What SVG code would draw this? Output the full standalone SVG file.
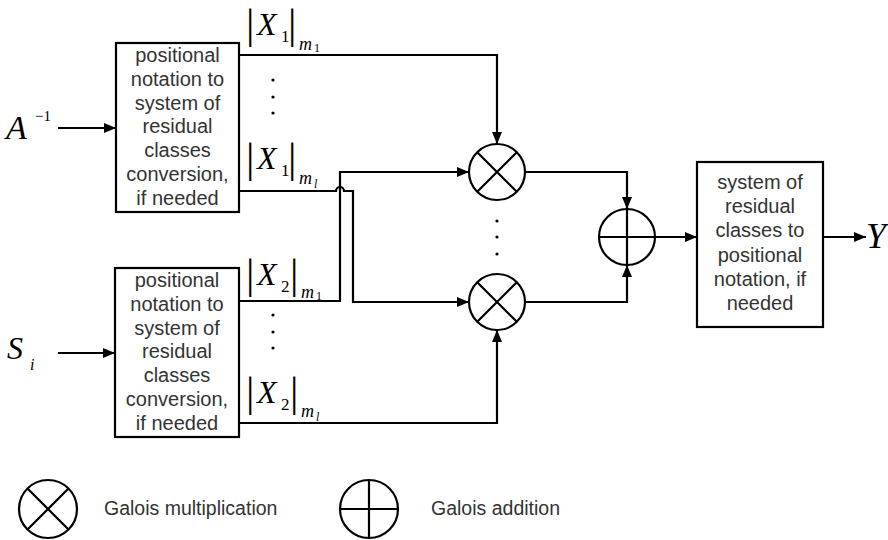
<svg xmlns="http://www.w3.org/2000/svg" width="888" height="540" viewBox="0 0 888 540">
<defs>
<marker id="arr" markerUnits="userSpaceOnUse" markerWidth="14" markerHeight="12" refX="12" refY="6" orient="auto">
<path d="M0,1 L12,6 L0,11 Z" fill="#000"/>
</marker>
<style>
.box{fill:#fff;stroke:#000;stroke-width:2.2}
.t{font-family:"Liberation Sans",Arial,sans-serif;font-size:20px;fill:#333;text-anchor:middle}
.lg{font-family:"Liberation Sans",Arial,sans-serif;font-size:19.5px;fill:#333}
.m{font-family:"Liberation Serif","Times New Roman",serif;fill:#000}
.i{font-style:italic}
.ln{fill:none;stroke:#000;stroke-width:2.2}
.c{fill:#fff;stroke:#000;stroke-width:2.2}
.dot{fill:#000}
</style>
</defs>

<g id="connectors">
<path class="ln" d="M58,128 H116" marker-end="url(#arr)"/>
<path class="ln" d="M58,353 H115" marker-end="url(#arr)"/>
<path class="ln" d="M239,55 H497 V144" marker-end="url(#arr)"/>
<path class="ln" d="M239,191 H336 A4,4 0 0 1 344,191 H353 V302 H469" marker-end="url(#arr)"/>
<path class="ln" d="M239,301 H340 V172 H469" marker-end="url(#arr)"/>
<path class="ln" d="M239,423 H497 V330" marker-end="url(#arr)"/>
<path class="ln" d="M525,172 H627 V209" marker-end="url(#arr)"/>
<path class="ln" d="M525,302 H627 V265" marker-end="url(#arr)"/>
<path class="ln" d="M655,237 H697" marker-end="url(#arr)"/>
<path class="ln" d="M823,237 H866" marker-end="url(#arr)"/>
</g>

<g id="in-A">
<text class="m i" x="6" y="139" font-size="34">A</text>
<text class="m" x="35" y="121" font-size="15">−1</text>
</g>
<g id="in-S">
<text class="m i" x="7" y="359" font-size="32">S</text>
<text class="m i" x="30" y="370" font-size="16">i</text>
</g>
<g id="out-Y">
<text class="m i" x="866" y="248" font-size="36">Y</text>
</g>

<g id="conv1">
<rect class="box" x="116" y="43" width="123" height="169"/>
<text class="t" x="177.5" y="62">positional</text>
<text class="t" x="177.5" y="86">notation to</text>
<text class="t" x="177.5" y="110">system of</text>
<text class="t" x="177.5" y="133">residual</text>
<text class="t" x="177.5" y="157">classes</text>
<text class="t" x="177.5" y="181">conversion,</text>
<text class="t" x="177.5" y="205">if needed</text>
</g>

<g id="conv2">
<rect class="box" x="115" y="268" width="124" height="169"/>
<text class="t" x="177" y="287">positional</text>
<text class="t" x="177" y="311">notation to</text>
<text class="t" x="177" y="335">system of</text>
<text class="t" x="177" y="358">residual</text>
<text class="t" x="177" y="382">classes</text>
<text class="t" x="177" y="406">conversion,</text>
<text class="t" x="177" y="430">if needed</text>
</g>

<g id="conv3">
<rect class="box" x="697" y="162" width="126" height="165"/>
<text class="t" x="760" y="189">system of</text>
<text class="t" x="760" y="213">residual</text>
<text class="t" x="760" y="237">classes to</text>
<text class="t" x="760" y="262">positional</text>
<text class="t" x="760" y="286">notation, if</text>
<text class="t" x="760" y="310">needed</text>
</g>

<g id="label-x1m1">
<text class="m" x="246" y="38" font-size="42">|</text>
<text class="m i" x="257" y="35" font-size="32">X</text>
<text class="m" x="281" y="42" font-size="17">1</text>
<text class="m" x="288" y="38" font-size="42">|</text>
<text class="m i" x="299" y="50" font-size="18">m</text>
<text class="m" x="314" y="52" font-size="12">1</text>
</g>
<g id="dots1">
<circle class="dot" cx="273" cy="80" r="1.6"/>
<circle class="dot" cx="273" cy="97" r="1.6"/>
<circle class="dot" cx="273" cy="113" r="1.6"/>
</g>
<g id="label-x1ml">
<text class="m" x="246" y="172" font-size="42">|</text>
<text class="m i" x="257" y="169" font-size="32">X</text>
<text class="m" x="281" y="176" font-size="17">1</text>
<text class="m" x="288" y="172" font-size="42">|</text>
<text class="m i" x="299" y="184" font-size="18">m</text>
<text class="m i" x="314" y="188" font-size="12">l</text>
</g>
<g id="label-x2m1">
<text class="m" x="246" y="288" font-size="42">|</text>
<text class="m i" x="257" y="285" font-size="32">X</text>
<text class="m" x="281" y="292" font-size="17">2</text>
<text class="m" x="290" y="288" font-size="42">|</text>
<text class="m i" x="301" y="298" font-size="18">m</text>
<text class="m" x="316" y="300" font-size="12">1</text>
</g>
<g id="dots2">
<circle class="dot" cx="273" cy="315" r="1.6"/>
<circle class="dot" cx="273" cy="332" r="1.6"/>
<circle class="dot" cx="273" cy="348" r="1.6"/>
</g>
<g id="label-x2ml">
<text class="m" x="246" y="406" font-size="42">|</text>
<text class="m i" x="257" y="403" font-size="32">X</text>
<text class="m" x="281" y="410" font-size="17">2</text>
<text class="m" x="290" y="406" font-size="42">|</text>
<text class="m i" x="301" y="417" font-size="18">m</text>
<text class="m i" x="316" y="421" font-size="12">l</text>
</g>

<g id="mult1">
<circle class="c" cx="497" cy="172" r="28"/>
<path class="ln" d="M477.2,152.2 L516.8,191.8 M516.8,152.2 L477.2,191.8"/>
</g>
<g id="mult2">
<circle class="c" cx="497" cy="302" r="28"/>
<path class="ln" d="M477.2,282.2 L516.8,321.8 M516.8,282.2 L477.2,321.8"/>
</g>
<g id="dots3">
<circle class="dot" cx="497" cy="221" r="1.6"/>
<circle class="dot" cx="497" cy="237" r="1.6"/>
<circle class="dot" cx="497" cy="254" r="1.6"/>
</g>
<g id="adder">
<circle class="c" cx="627" cy="237" r="28"/>
<path class="ln" d="M599,237 H655 M627,209 V265"/>
</g>

<g id="legend-mult">
<circle class="c" cx="48" cy="509" r="29"/>
<path class="ln" d="M27.5,488.5 L68.5,529.5 M68.5,488.5 L27.5,529.5"/>
<text class="lg" x="104" y="515">Galois multiplication</text>
</g>
<g id="legend-add">
<circle class="c" cx="369" cy="509" r="29"/>
<path class="ln" d="M340,509 H398 M369,480 V538"/>
<text class="lg" x="431" y="515">Galois addition</text>
</g>
</svg>
